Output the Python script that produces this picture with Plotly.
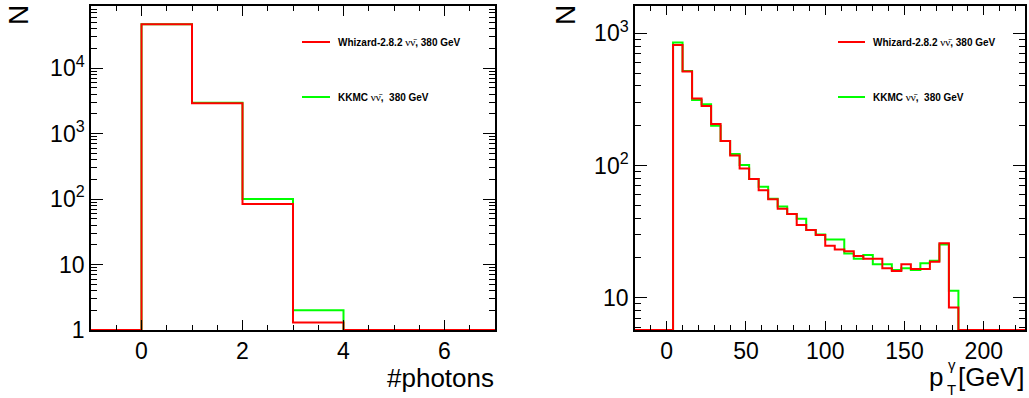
import numpy as np
import plotly.graph_objects as go

# ---------------- data ----------------
# Left panel: number of photons, bins of width 1 from -1 to 7
nph_edges = [-1, 0, 1, 2, 3, 4, 5, 6, 7]
nph_whizard = [0, 47000, 2900, 84, 1.3, 0, 0, 0]
nph_kkmc = [0, 47000, 2960, 100, 2.0, 0, 0, 0]

# Right panel: photon pT [GeV], bins of width 6 from -20 to 226
pt_lo, pt_hi, pt_w = -20, 226, 6
pt_whizard = [0, 0, 0, 0,
              816, 513, 321, 282, 206, 153, 119, 95, 79, 65,
              55.5, 47, 43, 35.5, 32.5, 29.8, 24.7, 23.2, 22.5, 20.7,
              19.7, 19.7, 16.7, 15.9, 17.9, 16.5, 16.5, 18.7, 25.8, 8.45,
              0, 0, 0, 0, 0, 0, 0]
pt_kkmc = [0, 0, 0, 0,
           850, 519, 313, 290, 200, 153, 122, 101, 79, 69,
           56, 49, 43, 39.6, 32.5, 30.1, 27.6, 27.6, 21.6, 19.7,
           21.0, 17.9, 17.9, 16.2, 16.7, 16.2, 18.2, 19.0, 25.3, 11.3,
           0, 0, 0, 0, 0, 0, 0]

label_whizard = "Whizard-2.8.2"
label_kkmc = "KKMC"
label_tail = "380 GeV"

RED = "#ff0000"
GREEN = "#00ff00"
FONT = "Liberation Sans, Arial, Helvetica, sans-serif"

W, H = 1029, 398
left_ymin_log, left_ymax_log = 0.0, 4.95
right_ymin_log, right_ymax_log = np.log10(5.7), 3.206


def step_xy(edges, vals, ymin):
    v = [max(float(a), ymin) for a in vals]
    x = list(edges)
    y = v + [v[-1]]
    return x, y


fig = go.Figure()

# left panel
lmin = 10 ** left_ymin_log
for vals, col in [(nph_kkmc, GREEN), (nph_whizard, RED)]:
    x, y = step_xy(nph_edges, vals, lmin)
    fig.add_trace(go.Scatter(x=x, y=y, mode="lines", line=dict(color=col, width=2, shape="hv"),
                             xaxis="x", yaxis="y", showlegend=False, cliponaxis=True))

# right panel
pt_edges = list(np.arange(pt_lo, pt_hi + pt_w / 2, pt_w))
rmin = 10 ** right_ymin_log
for vals, col in [(pt_kkmc, GREEN), (pt_whizard, RED)]:
    x, y = step_xy(pt_edges, vals, rmin)
    fig.add_trace(go.Scatter(x=x, y=y, mode="lines", line=dict(color=col, width=2, shape="hv"),
                             xaxis="x2", yaxis="y2", showlegend=False, cliponaxis=True))


def px_x(p):
    return p / W


def px_y(p):
    return 1 - p / H


def log_minor(lo, hi):
    out = []
    for d in range(int(np.floor(lo)) - 1, int(np.ceil(hi)) + 1):
        for m in range(2, 10):
            v = m * 10 ** d
            if 10 ** lo <= v <= 10 ** hi:
                out.append(v)
    return out


axis_common = dict(showline=True, linecolor="black", linewidth=1.5, mirror="ticks",
                   ticks="inside", tickcolor="black", tickwidth=1, showgrid=False,
                   zeroline=False, automargin=False,
                   tickfont=dict(family=FONT, size=23, color="black"))

ydom = [px_y(330), px_y(6)]

fig.update_layout(
    width=W, height=H,
    margin=dict(l=0, r=0, t=0, b=0),
    paper_bgcolor="white", plot_bgcolor="white",
    showlegend=False,
    xaxis=dict(axis_common, domain=[px_x(91), px_x(495)], range=[-1, 7],
               tickvals=[0, 2, 4, 6], ticklen=10, anchor="y",
               minor=dict(dtick=0.5, tick0=0, ticks="inside", ticklen=5, tickcolor="black", showgrid=False)),
    yaxis=dict(axis_common, domain=ydom, type="log", range=[left_ymin_log, left_ymax_log],
               tickvals=[1, 10, 100, 1000, 10000],
               ticktext=["1", "10", "10<sup>2</sup>", "10<sup>3</sup>", "10<sup>4</sup>"],
               ticklen=12, anchor="x",
               minor=dict(tickvals=log_minor(left_ymin_log, left_ymax_log), ticks="inside",
                          ticklen=6, tickcolor="black", showgrid=False)),
    xaxis2=dict(axis_common, domain=[px_x(635), px_x(1025)], range=[pt_lo, pt_hi],
                tickvals=[0, 50, 100, 150, 200], ticklen=9, anchor="y2",
                minor=dict(dtick=10, tick0=0, ticks="inside", ticklen=5, tickcolor="black", showgrid=False)),
    yaxis2=dict(axis_common, domain=ydom, type="log", range=[right_ymin_log, right_ymax_log],
                tickvals=[10, 100, 1000],
                ticktext=["10", "10<sup>2</sup>", "10<sup>3</sup>"],
                ticklen=12, anchor="x2",
                minor=dict(tickvals=log_minor(right_ymin_log, right_ymax_log), ticks="inside",
                           ticklen=6, tickcolor="black", showgrid=False)),
)

ann = []
shapes = []


def txt(x, y, s, size, xanchor="left", yanchor="middle", angle=0, weight="normal"):
    ann.append(dict(x=px_x(x), y=px_y(y), xref="paper", yref="paper", text=s, showarrow=False,
                    xanchor=xanchor, yanchor=yanchor, textangle=angle,
                    font=dict(family=FONT, size=size, color="black", weight=weight)))


nunu = ("<span style='font-family:Liberation Serif;font-weight:normal;font-size:11px'>"
        "\u03bd\u03bd\u0304</span>")

# legends
for x0, x1, xt in [(302, 330, 336), (838, 865, 871)]:
    shapes.append(dict(type="line", xref="paper", yref="paper", x0=px_x(x0), x1=px_x(x1),
                       y0=px_y(42), y1=px_y(42), line=dict(color=RED, width=2)))
    shapes.append(dict(type="line", xref="paper", yref="paper", x0=px_x(x0), x1=px_x(x1),
                       y0=px_y(97), y1=px_y(97), line=dict(color=GREEN, width=2)))
    txt(xt, 42, f"{label_whizard} {nunu}, {label_tail}", 10, weight="bold")
    txt(xt, 97, f"{label_kkmc} {nunu},\u00a0 {label_tail}", 10, weight="bold")

# axis titles
txt(19, 15, "N", 28, xanchor="center", angle=-90)
txt(566, 15, "N", 28, xanchor="center", angle=-90)
txt(496, 378, "#photons", 26, xanchor="right")
txt(1026, 377, "[GeV]", 26, xanchor="right")
txt(945, 377, "p", 26, xanchor="right")
txt(946, 364, "\u03b3", 15)
txt(945, 389, "T", 15)

fig.update_layout(annotations=ann, shapes=shapes)

fig.write_html(
    "out.html",
    config={"displayModeBar": False},
    post_script="document.body.style.margin='0';document.body.style.padding='0';"
                "document.body.style.overflow='hidden';",
)
